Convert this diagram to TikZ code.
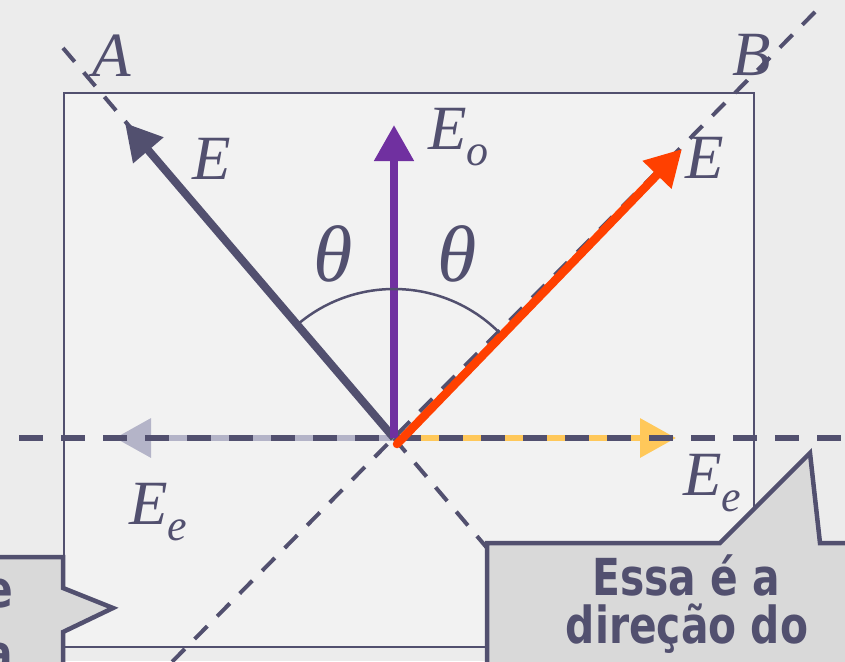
\documentclass[tikz,border=0pt]{standalone}
\usepackage{fontspec}
\setmainfont{Liberation Serif}
\newfontfamily\boxfont{DejaVu Sans}[FakeStretch=0.8]
\usetikzlibrary{arrows.meta}
\definecolor{slate}{HTML}{52506F}
\definecolor{paper}{HTML}{ECECEC}
\definecolor{panel}{HTML}{F2F2F2}
\definecolor{violetE}{HTML}{7030A0}
\definecolor{redE}{HTML}{FF4000}
\definecolor{goldE}{HTML}{FFC85A}
\definecolor{lilacE}{HTML}{B4B4C8}
\definecolor{callout}{HTML}{D9D9D9}
\tikzset{
  vec/.style={line width=8pt, -{Triangle[length=36pt,width=38pt]}},
  guide/.style={slate, line width=4pt, dash pattern=on 18pt off 14pt},
  lbl/.style={slate, inner sep=0pt, anchor=base west, font=\fontsize{63}{63}\selectfont\itshape},
  bubble/.style={draw=slate, line width=4.5pt, fill=callout, line join=miter},
  bubbletext/.style={slate, inner sep=0pt, anchor=base, font=\boxfont\bfseries\fontsize{51}{51}\selectfont}
}
\newcommand\subs[1]{\raisebox{-16pt}{\fontsize{44}{44}\selectfont #1}}
\begin{document}
\begin{tikzpicture}[x=1pt, y=-1pt]
  \useasboundingbox (0,0) rectangle (845,661);
  \clip (0,0) rectangle (845,661);
  \fill[paper] (0,0) rectangle (845,661);

  % ===== panel =====
  \draw[slate, line width=2.5pt, fill=panel] (64,93) rectangle (754,647);

  \coordinate (O) at (394,438);
  \coordinate (axL) at (19,438);
  \coordinate (axR) at (845,438);
  \coordinate (Aend) at (63,48);
  \coordinate (Alow) at (493,555);
  \coordinate (Bend) at (815,12);
  \coordinate (Blow) at (162,672);

  % ===== components along the axis =====
  \coordinate (EeL) at (115,438);
  \coordinate (EeR) at (676,438);
  \draw[vec, lilacE, line width=6.5pt] (O) -- (EeL);
  \draw[vec, goldE, line width=6.5pt] (O) -- (EeR);
  \draw[slate, line width=6.5pt, dash pattern=on 24pt off 18pt] (axL) -- (axR);

  % ===== directions A and B =====
  \draw[guide] (Aend) -- (Alow);
  \draw[guide] (Bend) -- (Blow);

  % ===== vectors =====
  \coordinate (Etip) at (125,123);
  \draw[vec, slate] (O) -- (Etip);
  \coordinate (Eotip) at (394,125);
  \draw[vec, violetE] (O) -- (Eotip);
  \coordinate (Rfoot) at (397,444);
  \coordinate (Rtip) at (682,149);
  \draw[vec, redE, line width=8.5pt, line cap=round] (Rfoot) -- (Rtip);

  \draw[slate, line width=2.5pt] ([shift={(-45:149)}]O) arc[start angle=-45, end angle=-130, radius=149];

  % ===== labels =====
  \node[lbl] (labA) at (92,76) {A};
  \node[lbl] (labB) at (732,75) {B};
  \node[lbl] (labE) at (192,179) {E};
  \node[lbl] (labEo) at (428,149) {E\subs{o}};
  \node[lbl] (labER) at (685,178) {E};
  \node[lbl, font=\fontsize{80}{80}\selectfont\itshape] (th1) at (313,281) {θ};
  \node[lbl, font=\fontsize{80}{80}\selectfont\itshape] (th2) at (437,281) {θ};
  \node[lbl] (labEeL) at (129,524) {E\subs{e}};
  \node[lbl] (labEeR) at (683,495) {E\subs{e}};

  % ===== callouts =====
  \draw[bubble] (487,690) -- (487,543) -- (720,543) -- (810,453) -- (820,543) -- (870,543) -- (870,690) -- cycle;
  \node[bubbletext] (noteR1) at (686,595) {Essa é a};
  \node[bubbletext] (noteR2) at (687,643) {direção do};

  \draw[bubble] (-20,557) -- (63,557) -- (63,588) -- (113,608) -- (63,632) -- (63,690) -- (-20,690) -- cycle;
  \node[bubbletext, anchor=base east] (noteL1) at (13,607) {e};
  \node[bubbletext, anchor=base east] (noteL2) at (13,671) {a};
\end{tikzpicture}
\end{document}
